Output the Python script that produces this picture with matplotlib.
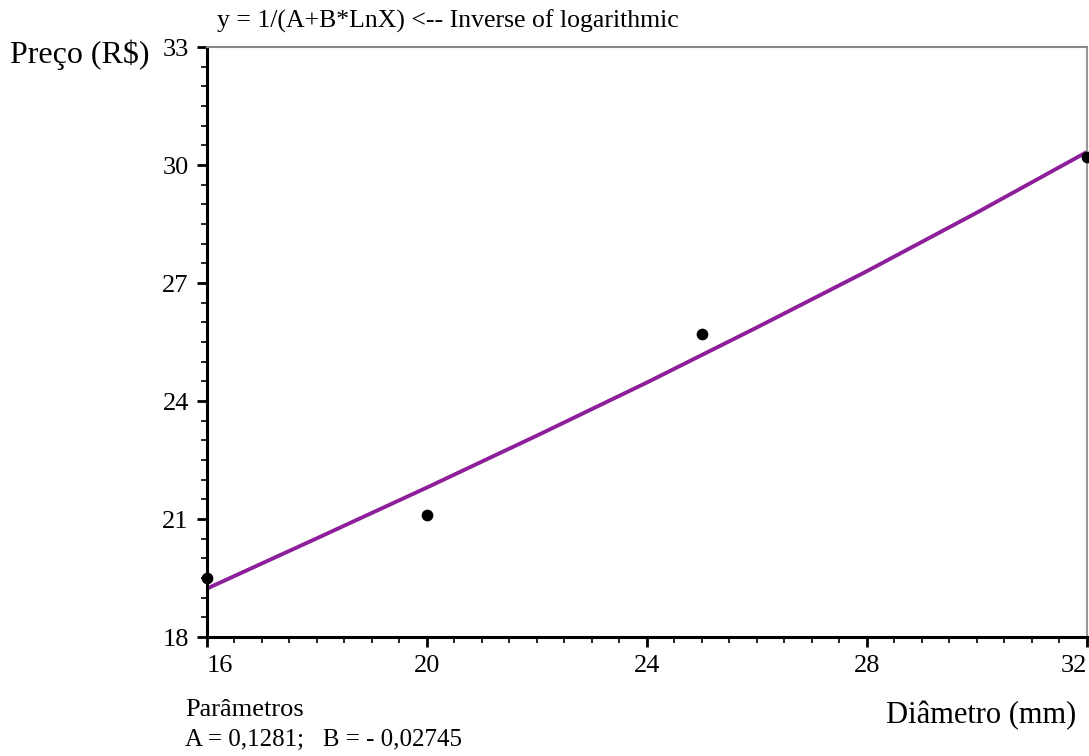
import matplotlib.pyplot as plt
from matplotlib.ticker import MultipleLocator

# Pontos observados (diametro mm, preco R$)
diametro = [16, 20, 25, 32]
preco = [19.5, 21.1, 25.7, 30.2]

# Curva ajustada
curva_x = [16, 18, 20, 22, 24, 26, 28, 30, 32]
curva_y = [19.23, 20.51, 21.80, 23.12, 24.47, 25.87, 27.30, 28.79, 30.33]

x_ticks = [16, 20, 24, 28, 32]
y_ticks = [18, 21, 24, 27, 30, 33]

plt.rcParams['font.family'] = ['Liberation Serif', 'DejaVu Serif']

fig = plt.figure(figsize=(10.89, 7.56), dpi=100)
ax = fig.add_axes([0.190, 0.1574, 0.808, 0.7804])

ax.plot(curva_x, curva_y, color="#8e1f9a", linewidth=2.8, zorder=2)
ax.scatter(diametro, preco, color="black", s=55, zorder=3, clip_on=False)

ax.set_xlim(16, 32)
ax.set_ylim(18, 33)
ax.set_xticks(x_ticks)
ax.set_yticks(y_ticks)
ax.xaxis.set_minor_locator(MultipleLocator(0.5))
ax.yaxis.set_minor_locator(MultipleLocator(0.5))
ax.tick_params(which="major", length=7, width=2, labelsize=19, pad=6)
ax.tick_params(which="minor", length=4, width=1.2)

# primeiro e ultimo rotulo dentro do eixo
xlabels = ax.get_xticklabels()
xlabels[0].set_horizontalalignment("left")
xlabels[-1].set_horizontalalignment("right")

ax.spines["left"].set_linewidth(2.2)
ax.spines["bottom"].set_linewidth(2.2)
ax.spines["top"].set_color("#888888")
ax.spines["right"].set_color("#999999")
ax.spines["top"].set_linewidth(1.5)
ax.spines["right"].set_linewidth(1.5)

fig.text(0.199, 0.972, "y = 1/(A+B*LnX) <-- Inverse of logarithmic", fontsize=18.5, va="center")
fig.text(0.009, 0.927, "Preço (R$)", fontsize=23, va="center")
fig.text(0.988, 0.054, "Diâmetro (mm)", fontsize=22, va="center", ha="right")
fig.text(0.170, 0.061, "Parâmetros", fontsize=19, va="center")
fig.text(0.170, 0.021, "A = 0,1281;   B = - 0,02745", fontsize=18, va="center")

fig.savefig("out.png", dpi=100)
